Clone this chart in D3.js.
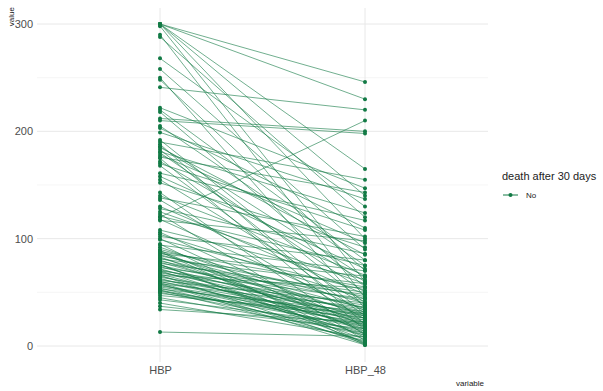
<!DOCTYPE html>
<html><head><meta charset="utf-8">
<script src="https://cdn.jsdelivr.net/npm/d3@7"></script>
<style>body{margin:0;background:#fff;font-family:"Liberation Sans",Arial,sans-serif;}</style>
</head><body>
<svg id="chart" width="603" height="391"></svg>
<script>
const categories = ["HBP", "HBP_48"];
const hbp = [300,300,300,300,300,298,290,288,268,258,250,248,241,222,220,218,212,210,205,203,199,192,190,188,186,185,183,181,180,178,176,175,172,170,168,161,158,155,152,143,140,138,136,130,128,125,123,121,120,118,117,108,106,104,102,100,99,94,92,90,89,88,87,86,85,84,83,82,81,80,79,78,77,76,75,74,73,72,71,70,70,69,68,67,66,65,64,63,62,61,60,60,59,58,57,56,55,54,53,52,51,50,49,47,45,43,40,37,34,13,95,88,76,66,58,52];
const hbp48 = [246,230,165,140,100,60,45,120,130,90,35,70,220,147,80,55,200,198,75,110,137,40,155,20,64,85,30,124,50,96,143,15,60,108,28,117,72,38,92,10,66,102,25,48,86,58,5,75,210,33,98,62,18,44,80,12,52,70,28,40,8,55,22,65,35,46,14,30,58,20,42,26,50,6,36,24,48,16,32,44,10,28,38,18,54,22,34,12,30,40,20,26,4,36,16,28,24,10,32,18,22,14,26,30,12,20,8,16,22,9,2,1,3,2,1,5];
const yTicks = [0,100,200,300];
const yMinor = [50,150,250];
const legendTitle = "death after 30 days";
const legendLabel = "No";

(function(){
const color = "#127a45";
const svg = d3.select("#chart");
const x = d3.scalePoint().domain(categories).range([160,365]);
const y = d3.scaleLinear().domain([0,300]).range([346,24]);
const pL = 37, pR = 488, pT = 8, pB = 362;

const g = svg.append("g");
g.selectAll(".minor").data(yMinor).enter().append("line")
  .attr("x1",pL).attr("x2",pR).attr("y1",d=>y(d)).attr("y2",d=>y(d))
  .attr("stroke","#f0f0f0").attr("stroke-width",0.6);
g.selectAll(".major").data(yTicks).enter().append("line")
  .attr("x1",pL).attr("x2",pR).attr("y1",d=>y(d)).attr("y2",d=>y(d))
  .attr("stroke","#e8e8e8").attr("stroke-width",1);
g.selectAll(".vmajor").data(categories).enter().append("line")
  .attr("x1",d=>x(d)).attr("x2",d=>x(d)).attr("y1",pT).attr("y2",pB)
  .attr("stroke","#e8e8e8").attr("stroke-width",1);

const yAxis = d3.axisLeft(y).tickValues(yTicks).tickSize(0).tickPadding(4);
const ya = svg.append("g").attr("transform",`translate(${pL},0)`).call(yAxis);
ya.select(".domain").remove();
ya.selectAll("text").attr("fill","#4d4d4d").style("font-size","11px").style("font-family","Liberation Sans, Arial, sans-serif");

const xAxis = d3.axisBottom(x).tickSize(0).tickPadding(4);
const xa = svg.append("g").attr("transform",`translate(0,${pB})`).call(xAxis);
xa.select(".domain").remove();
xa.selectAll("text").attr("fill","#4d4d4d").style("font-size","11px").style("font-family","Liberation Sans, Arial, sans-serif");

svg.append("text").attr("transform","translate(14,7) rotate(-90)").attr("text-anchor","end")
  .attr("fill","#222").style("font-size","8px").text("value");
svg.append("text").attr("x",484).attr("y",386).attr("text-anchor","end")
  .attr("fill","#222").style("font-size","8px").text("variable");

const pairs = hbp.map((v,i)=>({a:v,b:hbp48[i]}));
g.selectAll(".ln").data(pairs).enter().append("line")
  .attr("x1",x("HBP")).attr("x2",x("HBP_48"))
  .attr("y1",d=>y(d.a)).attr("y2",d=>y(d.b))
  .attr("stroke",color).attr("stroke-opacity",0.6).attr("stroke-width",1);
g.selectAll(".pa").data(pairs).enter().append("circle")
  .attr("cx",x("HBP")).attr("cy",d=>y(d.a)).attr("r",2).attr("fill",color);
g.selectAll(".pb").data(pairs).enter().append("circle")
  .attr("cx",x("HBP_48")).attr("cy",d=>y(d.b)).attr("r",2).attr("fill",color);

svg.append("text").attr("x",502).attr("y",180).attr("fill","#222").style("font-size","11px").text(legendTitle);
svg.append("line").attr("x1",503).attr("x2",518).attr("y1",195).attr("y2",195).attr("stroke",color).attr("stroke-width",1);
svg.append("circle").attr("cx",510.5).attr("cy",195).attr("r",2).attr("fill",color);
svg.append("text").attr("x",526).attr("y",198).attr("fill","#222").style("font-size","8px").text(legendLabel);
})();
</script>
</body></html>
